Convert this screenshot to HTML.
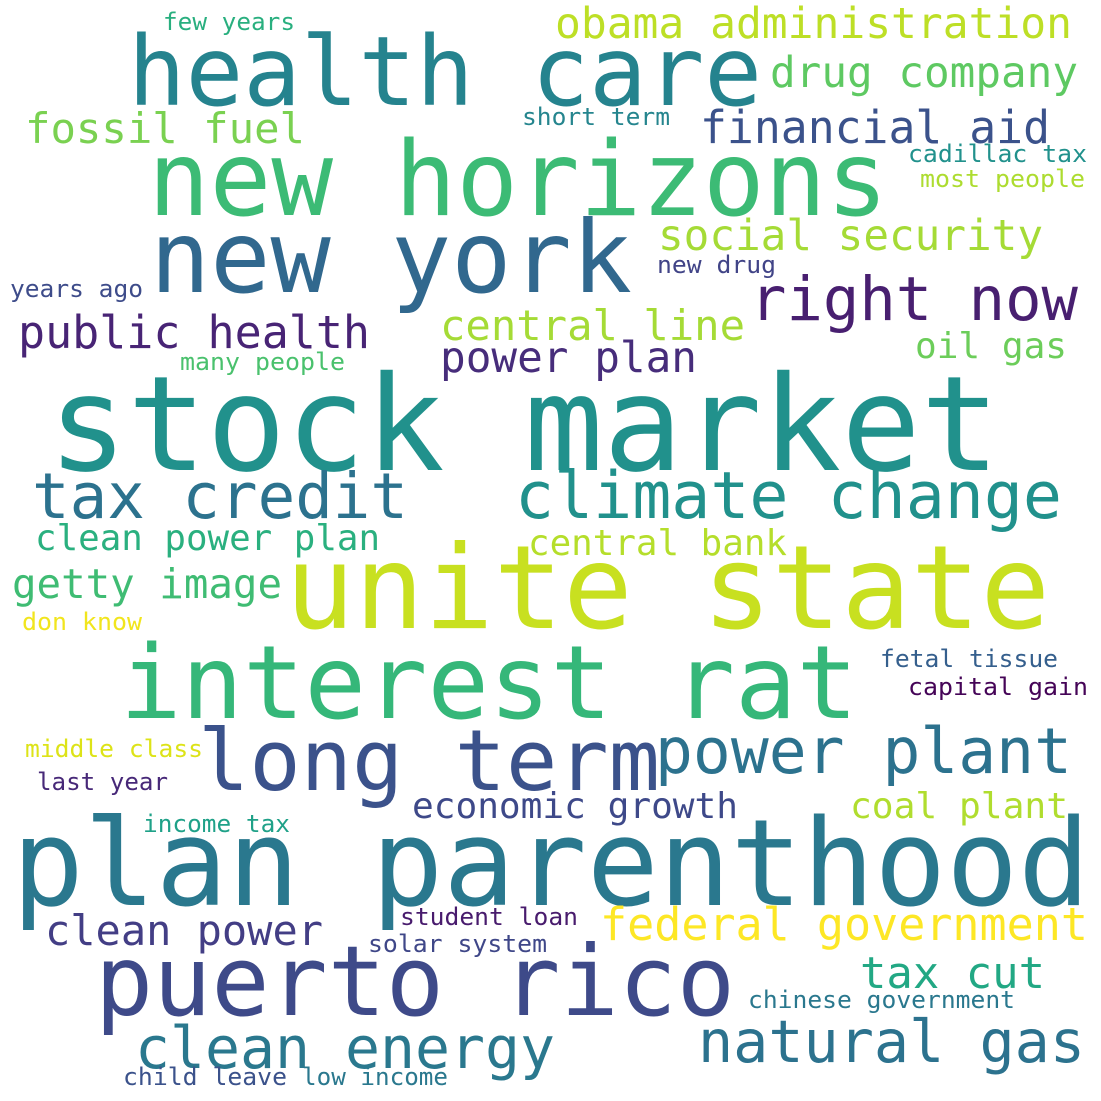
<!DOCTYPE html>
<html><head><meta charset="utf-8"><style>
html,body{margin:0;padding:0;background:#fff;}
svg{display:block;}
text{font-family:"DejaVu Sans Mono","Liberation Mono",monospace;}
</style></head><body>
<svg id="cloud" width="1101" height="1101" viewBox="0 0 1101 1101">
<rect width="1101" height="1101" fill="#fff"/>
</svg>
<script>
const words = ["health care","new horizons","new york","stock market","unite state","interest rat","plan parenthood","puerto rico","long term","power plant","tax credit","climate change","natural gas","clean energy","right now","public health","financial aid","obama administration","drug company","fossil fuel","social security","central line","power plan","oil gas","clean power plan","central bank","getty image","economic growth","coal plant","federal government","clean power","tax cut","few years","short term","cadillac tax","most people","new drug","years ago","many people","don know","fetal tissue","capital gain","middle class","last year","income tax","student loan","solar system","chinese government","child leave","low income"];
const fontSizes = [96,103,100,132,116,102,120,97,85,63,63,65,59,58,61,45,45,43,43,42,43,42,43,36,36,36,41,36,36,45,42,44,24,24,24,24,24,24,24,24,24,24,24,24,24,24,24,24,24,24];
const colors = ["#25838e","#3cbb75","#31688e","#21918c","#c8e020","#35b779","#2a788e","#3e4a89","#3b528b","#2c728e","#2c728e","#21918c","#2c728e","#2a788e","#481f70","#482475","#3b528b","#bddf26","#5ec962","#7ad151","#a5db36","#a5db36","#472d7b","#6ccd5a","#2ab07f","#b5de2b","#3fbc73","#3e4989","#b0dd2f","#fde725","#433e85","#22a884","#29af7f","#25858e","#21918c","#addc30","#414487","#3e4c8a","#4ac16d","#f1e51d","#355f8d","#450457","#dde318","#472878","#1fa188","#481b6d","#3f4788","#2a788e","#3b528b","#2a788e"];
const box = [[128,762,105],[148,888,215],[150,632,292],[48,1000,470],[285,1050,628],[120,858,718],[12,1090,905],[95,735,1015],[198,660,790],[655,1072,773],[32,408,518],[515,1062,518],[698,1085,1062],[135,555,1068],[750,1078,320],[18,370,348],[700,1050,143],[555,1072,38],[770,1078,87],[25,305,143],[658,1043,250],[440,745,340],[440,697,372],[915,1067,358],[35,380,550],[528,787,555],[12,282,598],[412,738,818],[850,1068,818],[600,1088,940],[45,323,945],[860,1045,988],[163,295,30],[522,670,125],[908,1087,162],[920,1085,187],[657,776,273],[10,143,297],[180,345,370],[22,142,630],[880,1058,667],[908,1088,695],[25,203,757],[37,168,790],[143,290,832],[400,578,925],[368,547,952],[748,1015,1008],[123,287,1085],[302,448,1085]];
const svg = document.getElementById('cloud');
words.forEach((w,i)=>{
  const t = document.createElementNS('http://www.w3.org/2000/svg','text');
  
  
  t.setAttribute('x', box[i][0]);
  t.setAttribute('y', box[i][2]);
  t.setAttribute('font-size', fontSizes[i]);
  t.setAttribute('fill', colors[i]);
  t.setAttribute('textLength', box[i][1]-box[i][0]);
  t.setAttribute('lengthAdjust', 'spacingAndGlyphs');
  t.textContent = w;
  svg.appendChild(t);
});
</script>
</body></html>
